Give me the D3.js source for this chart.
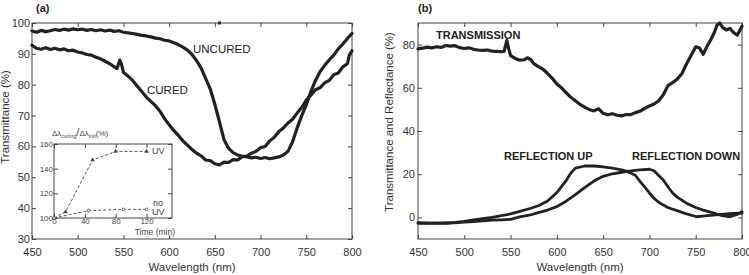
<!DOCTYPE html>
<html><head><meta charset="utf-8">
<script src="https://cdn.jsdelivr.net/npm/d3@7"></script>
<style>
html,body{margin:0;padding:0;background:#fff;}
svg{display:block;font-family:"Liberation Sans",Arial,Helvetica,sans-serif;}
</style></head>
<body><svg id="c" width="749" height="275"></svg>
<script>
// ---------- DATA ----------
const xTicks = [450,500,550,600,650,700,750,800];
const yTicksA = [30,40,50,60,70,80,90,100];
const yTicksB = [0,20,40,60,80];
const insetXTicks = [0,40,80,120];
const insetYTicks = [100,120,140,160];

const uncuredWl = [450,455,460,465,470,475,480,485,490,495,500,505,510,515,520,525,530,535,540,545,550,555,560,565,570,575,580,585,590,595,600,605,610,615,620,625,630,635,640,645,650,655,660,665,670,675,680,685,690,695,700,705,710,715,720,725,730,735,740,745,750,755,760,765,770,775,780,785,790,795,800];
const uncuredT  = [97.4,97.0,97.6,97.2,97.5,97.9,97.6,98.0,97.7,98.1,97.8,98.0,97.6,97.9,97.5,97.8,97.4,97.7,97.3,97.5,97.0,96.8,96.6,96.3,96.0,95.8,95.5,95.1,94.9,94.4,94.2,93.6,93.0,92.2,91.2,89.8,87.8,85.4,82.0,78.6,73.6,68.0,62.2,59.4,58.0,57.2,56.8,56.6,56.3,56.5,56.1,56.4,56.0,56.3,56.6,57.2,58.4,61.5,66.0,70.0,73.5,77.8,81.3,84.2,86.2,88.0,89.6,91.6,93.2,95.0,96.6];

const curedWl = [450,455,460,465,470,475,480,485,490,495,500,505,510,515,520,525,530,535,540,543,546,548,550,555,560,565,570,575,580,585,590,595,600,605,610,615,620,625,630,635,640,645,650,655,660,665,670,675,680,685,690,695,700,705,710,715,720,725,730,735,740,745,750,755,760,765,770,775,780,785,790,795,797,800];
const curedT  = [92.8,91.8,91.5,92.0,91.4,91.8,91.3,91.6,91.0,91.2,90.6,90.3,89.8,89.6,88.9,88.4,87.6,86.8,85.8,85.2,88.0,86.5,84.0,82.8,81.4,79.6,77.8,76.0,74.6,73.2,71.4,69.0,67.0,65.2,63.6,61.8,60.4,59.0,57.8,56.9,55.6,55.4,54.4,54.0,54.9,54.8,55.7,55.6,56.7,56.9,57.8,58.4,59.6,60.0,61.8,63.0,64.8,66.0,67.6,68.8,70.8,72.6,75.0,76.6,78.4,79.0,80.6,81.4,83.2,83.8,85.8,86.8,89.5,91.0];

const transWl = [450,455,460,465,470,475,480,485,490,495,500,505,510,515,520,525,530,535,540,543,546,548,550,555,560,565,568,572,575,580,585,590,595,600,605,610,615,620,625,630,635,640,645,650,655,660,665,670,675,680,685,690,695,700,705,710,715,720,725,730,735,740,745,750,754,758,762,766,770,773,776,779,783,787,791,795,800];
const transT  = [78.0,78.4,78.8,78.5,79.0,78.7,79.6,79.3,79.5,78.6,78.2,78.5,77.8,77.5,77.3,77.5,77.0,76.9,76.7,76.9,81.9,78.0,74.9,73.6,72.8,73.0,73.9,73.0,71.2,69.8,68.6,66.6,64.4,61.8,60.0,57.8,55.6,54.0,52.3,51.0,50.0,49.3,50.3,48.2,47.5,48.0,47.3,47.0,47.6,47.6,48.5,49.2,50.5,51.6,52.5,54.0,56.8,61.0,62.4,64.0,66.5,71.0,75.0,79.0,78.5,75.5,79.0,82.0,85.5,89.0,90.0,88.0,86.8,87.5,85.5,84.4,88.5];

const reflUpWl = [450,460,470,480,490,500,510,520,530,540,550,560,570,580,590,600,610,615,620,630,640,650,660,670,675,680,685,690,695,700,705,710,715,720,725,733,740,751,760,769,780,790,800];
const reflUpR  = [-2.6,-2.8,-2.5,-2.7,-2.3,-1.8,-1.2,-0.6,0.0,0.8,1.6,2.8,4.0,5.4,7.6,11.5,17.0,20.5,22.8,23.8,23.8,23.4,22.8,22.0,21.4,20.6,19.4,16.6,14.0,11.3,8.8,7.0,5.7,4.6,3.8,2.7,1.6,0.3,0.7,1.1,1.5,1.8,2.0];

const reflDownWl = [450,460,470,480,490,500,510,520,530,540,550,560,570,580,590,600,610,620,630,640,650,660,670,680,690,700,705,710,715,720,725,730,740,750,758,766,776,787,795,800];
const reflDownR  = [-2.6,-2.5,-2.8,-2.6,-2.5,-2.2,-1.9,-1.6,-1.3,-1.1,-0.9,0.2,1.0,2.2,3.4,5.0,7.5,10.5,13.8,16.8,19.0,20.2,20.9,21.5,22.0,22.3,21.6,19.4,17.3,14.2,11.3,9.4,6.6,4.6,3.4,2.4,1.1,0.3,1.4,2.6];

const uvTime = [0,15,50,80,120];
const uvVal  = [100,105,147,154,154];
const noUvTime = [0,45,90,120];
const noUvVal  = [100,106,107,107];

// ---------- DRAW ----------
const svg = d3.select("#c");
const LINE = "#222";
const AX = "#444";

function panel(o){
  const g = svg.append("g");
  const x = d3.scaleLinear().domain(o.xd).range([o.l, o.r]);
  const y = d3.scaleLinear().domain(o.yd).range([o.b, o.t]);
  const tl = 4;
  g.append("rect").attr("x",o.l).attr("y",o.t).attr("width",o.r-o.l).attr("height",o.b-o.t)
    .attr("fill","#fff").attr("stroke",AX).attr("stroke-width",1);
  const ax = (axis, tr) => {
    const a = g.append("g").attr("transform",tr).call(axis);
    a.select(".domain").remove();
    a.selectAll("line").attr("stroke",AX);
    a.selectAll("text").attr("fill","#333").style("font-size",o.fs+"px").style("font-family","inherit");
    return a;
  };
  ax(d3.axisBottom(x).tickValues(o.xt).tickSize(-tl).tickPadding(o.xpad).tickFormat(d3.format("d")), `translate(0,${o.b})`);
  ax(d3.axisTop(x).tickValues(o.xt).tickSize(-tl).tickFormat(""), `translate(0,${o.t})`);
  ax(d3.axisLeft(y).tickValues(o.yt).tickSize(-tl).tickPadding(o.ypad).tickFormat(d3.format("d")), `translate(${o.l},0)`);
  ax(d3.axisRight(y).tickValues(o.yt).tickSize(-tl).tickFormat(""), `translate(${o.r},0)`);
  return {g,x,y};
}

function curve(p, xs, ys, w){
  const line = d3.line().x(d=>p.x(d[0])).y(d=>p.y(d[1])).curve(d3.curveLinear);
  p.g.append("path").datum(d3.zip(xs,ys)).attr("d",line)
    .attr("fill","none").attr("stroke",LINE).attr("stroke-width",w).attr("stroke-linejoin","round").attr("stroke-linecap","round");
}

// Panel (a)
const A = panel({l:32,r:352,t:23,b:239,xd:[450,800],yd:[30,100],xt:xTicks,yt:yTicksA,fs:11,xpad:9,ypad:2});
curve(A, uncuredWl, uncuredT, 3.2);
curve(A, curedWl, curedT, 3.2);
A.g.append("rect").attr("x",A.x(655)-1.5).attr("y",A.y(100)-1.5).attr("width",3).attr("height",3).attr("fill",LINE);
svg.append("text").attr("x",36).attr("y",12).text("(a)").attr("font-weight","bold").attr("font-size",11).attr("fill","#222");
svg.append("text").attr("x",192).attr("y",271).attr("text-anchor","middle").attr("font-size",11.5).attr("fill","#333").text("Wavelength (nm)");
svg.append("text").attr("transform","translate(9,117) rotate(-90)").attr("text-anchor","middle").attr("font-size",11.5).attr("fill","#333").text("Transmittance (%)");
svg.append("text").attr("x",193).attr("y",53).attr("font-size",11.5).attr("fill","#222").text("UNCURED");
svg.append("text").attr("x",147).attr("y",94).attr("font-size",11.5).attr("fill","#222").text("CURED");

// Inset
const I = panel({l:54,r:172,t:144,b:218,xd:[0,153],yd:[100,160],xt:insetXTicks,yt:insetYTicks,fs:8,xpad:0,ypad:1});
I.g.selectAll(".tick text").style("font-size","8px").attr("fill","#444");
const dl = d3.line().x(d=>I.x(d[0])).y(d=>I.y(d[1]));
I.g.append("path").datum(d3.zip(uvTime,uvVal)).attr("d",dl).attr("fill","none").attr("stroke","#444").attr("stroke-width",0.9).attr("stroke-dasharray","3,2");
I.g.append("path").datum(d3.zip(noUvTime,noUvVal)).attr("d",dl).attr("fill","none").attr("stroke","#444").attr("stroke-width",0.9).attr("stroke-dasharray","3,2");
I.g.selectAll(".tri").data(d3.zip(uvTime,uvVal)).enter().append("path")
  .attr("transform",d=>`translate(${I.x(d[0])},${I.y(d[1])})`)
  .attr("d",d3.symbol(d3.symbolTriangle,9)).attr("fill","#444");
I.g.selectAll(".cir").data(d3.zip(noUvTime,noUvVal)).enter().append("circle")
  .attr("cx",d=>I.x(d[0])).attr("cy",d=>I.y(d[1])).attr("r",1.4).attr("fill","#fff").attr("stroke","#444").attr("stroke-width",0.8);
svg.append("text").attr("x",152).attr("y",154).attr("font-size",9).attr("fill","#444").text("UV");
svg.append("text").attr("x",153).attr("y",206).attr("font-size",9).attr("fill","#444").text("no");
svg.append("text").attr("x",152).attr("y",215).attr("font-size",9).attr("fill","#444").text("UV");
svg.append("text").attr("x",175).attr("y",235).attr("text-anchor","end").attr("font-size",8.5).attr("fill","#444").text("Time (min)");
const tt = svg.append("text").attr("x",52).attr("y",136).attr("font-size",8).attr("fill","#444");
tt.append("tspan").text("Δλ");
tt.append("tspan").attr("font-size",5.5).attr("dy",2).text("curing");
tt.append("tspan").attr("font-size",11).attr("dy",-2).text("/");
tt.append("tspan").text("Δλ");
tt.append("tspan").attr("font-size",5.5).attr("dy",2).text("init");
tt.append("tspan").attr("dy",-2).text("(%)");

// Panel (b)
const B = panel({l:418,r:742,t:23,b:239,xd:[450,800],yd:[-10,90],xt:xTicks,yt:yTicksB,fs:11,xpad:9,ypad:3});
curve(B, transWl, transT, 3.2);
curve(B, reflUpWl, reflUpR, 2.8);
curve(B, reflDownWl, reflDownR, 2.8);
svg.append("text").attr("x",418).attr("y",12).text("(b)").attr("font-weight","bold").attr("font-size",11).attr("fill","#222");
svg.append("text").attr("x",580).attr("y",271).attr("text-anchor","middle").attr("font-size",11.5).attr("fill","#333").text("Wavelength (nm)");
svg.append("text").attr("transform","translate(393,122) rotate(-90)").attr("text-anchor","middle").attr("font-size",11.5).attr("fill","#333").text("Transmittance and Reflectance (%)");
svg.append("text").attr("x",436).attr("y",39).attr("font-size",11).attr("font-weight","bold").attr("fill","#222").text("TRANSMISSION");
svg.append("text").attr("x",504).attr("y",160).attr("font-size",11).attr("font-weight","bold").attr("fill","#222").text("REFLECTION UP");
svg.append("text").attr("x",632).attr("y",160).attr("font-size",11).attr("font-weight","bold").attr("fill","#222").text("REFLECTION DOWN");
</script></body></html>
